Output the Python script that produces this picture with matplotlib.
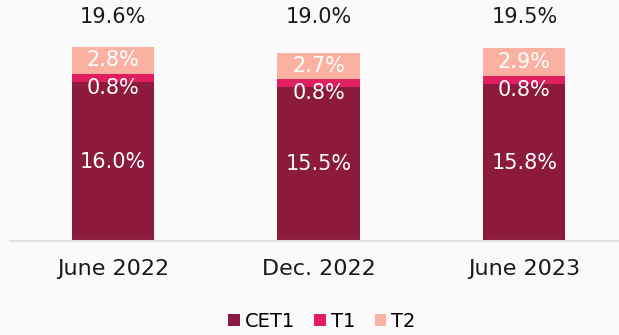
import matplotlib.pyplot as plt
import numpy as np

periods = ["June 2022", "Dec. 2022", "June 2023"]
cet1 = [16.0, 15.5, 15.8]
t1 = [0.8, 0.8, 0.8]
t2 = [2.8, 2.7, 2.9]
totals = [19.6, 19.0, 19.5]

c_cet1 = "#8B1A3C"
c_t1 = "#E01F5E"
c_t2 = "#FBB1A1"
bg = "#FBF9F9"

plt.rcParams["font.family"] = ["DejaVu Sans"]

fig = plt.figure(figsize=(6.19, 3.35), dpi=100, facecolor=bg)
ax = fig.add_axes([0.016, 0.2806, 0.984, 0.7194])
ax.set_facecolor(bg)

x = np.arange(len(periods))
w = 0.40
ax.bar(x, cet1, w, color=c_cet1, label="CET1")
ax.bar(x, t1, w, bottom=cet1, color=c_t1, label="T1")
base2 = np.array(cet1) + np.array(t1)
ax.bar(x, t2, w, bottom=base2, color=c_t2, label="T2")

fs = 15
for i in range(len(x)):
    ax.text(x[i], cet1[i] / 2, f"{cet1[i]:.1f}%", ha="center", va="center",
            color="white", fontsize=fs)
    ax.text(x[i], cet1[i] - 0.55, f"{t1[i]:.1f}%", ha="center", va="center",
            color="white", fontsize=fs)
    ax.text(x[i], base2[i] + t2[i] / 2, f"{t2[i]:.1f}%", ha="center", va="center",
            color="white", fontsize=fs)
    ax.text(x[i], 22.6, f"{totals[i]:.1f}%", ha="center", va="center",
            color="#1a1a1a", fontsize=fs)

ax.set_xlim(-0.50, 2.46)
ax.set_ylim(0, 24.3)
ax.set_yticks([])
ax.set_xticks(x)
ax.set_xticklabels(periods, fontsize=16, color="#1a1a1a")
ax.tick_params(axis="x", length=0, pad=13)
for s in ["top", "right", "left"]:
    ax.spines[s].set_visible(False)
ax.spines["bottom"].set_color("#DCE2E6")
ax.spines["bottom"].set_linewidth(1.5)

handles, labels = ax.get_legend_handles_labels()
fig.legend(handles, labels, loc="center", bbox_to_anchor=(0.52, 0.04), ncol=3,
           frameon=False, fontsize=14, handlelength=0.6, handleheight=0.6,
           handletextpad=0.25, columnspacing=1.0, borderaxespad=0)

fig.savefig("out.png", dpi=100, facecolor=bg)
